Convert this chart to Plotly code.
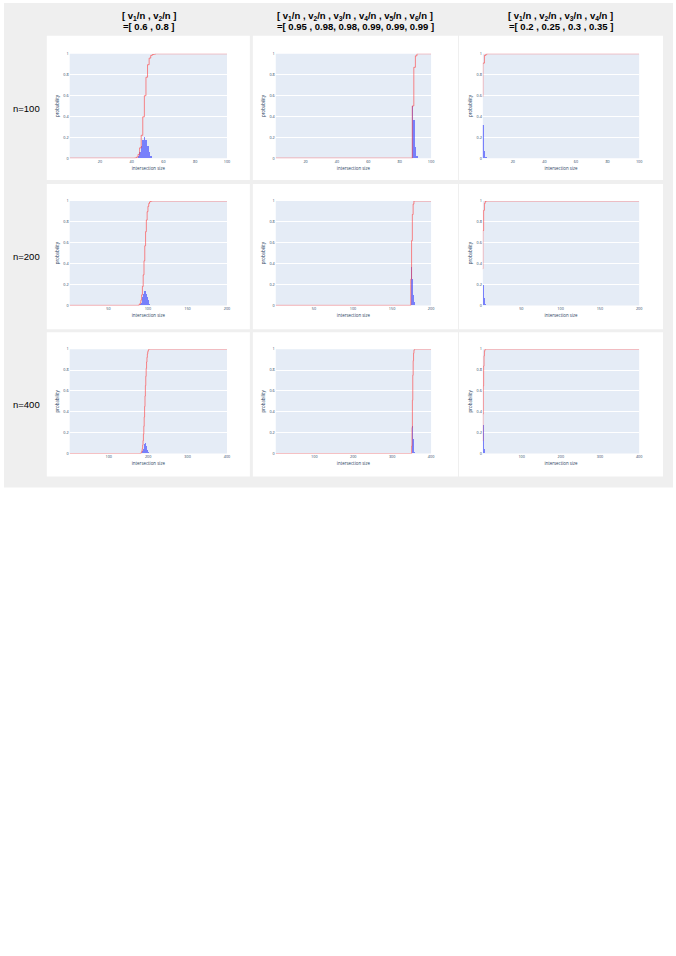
"""
Intersection-size distributions: bars = probability, red step = cumulative.
"""

import plotly.graph_objects as go

# the figure is kept a bit shorter than the 956px window so the page never scrolls
W, H = 676, 940

N_SIZES = [100, 200, 400]
X_DTICK = [20, 50, 100]

HEAD_TOP = [
    "[ v<sub>1</sub>/n , v<sub>2</sub>/n ]",
    "[ v<sub>1</sub>/n , v<sub>2</sub>/n , v<sub>3</sub>/n , v<sub>4</sub>/n , v<sub>5</sub>/n , v<sub>6</sub>/n ]",
    "[ v<sub>1</sub>/n , v<sub>2</sub>/n , v<sub>3</sub>/n , v<sub>4</sub>/n ]",
]
HEAD_BOTTOM = [
    "=[ 0.6 , 0.8 ]",
    "=[ 0.95 , 0.98, 0.98, 0.99, 0.99, 0.99 ]",
    "=[ 0.2 , 0.25 , 0.3 , 0.35 ]",
]
ROW_LABELS = ["n=100", "n=200", "n=400"]

# n=100
BAR_X_100_A = [42, 43, 44, 45, 46, 47, 48, 49, 50, 51, 52, 53, 54, 55]
BAR_P_100_A = [0.002, 0.008, 0.026, 0.063, 0.12, 0.177, 0.202, 0.177, 0.12, 0.063, 0.026, 0.009, 0.003, 0.001]
CDF_X_100_A = [1, 42, 43, 44, 45, 46, 47, 48, 49, 50, 51, 52, 53, 54, 55, 100]
CDF_Y_100_A = [0, 0.002, 0.01, 0.036, 0.099, 0.219, 0.396, 0.598, 0.775, 0.895, 0.958, 0.984, 0.993, 0.996, 1.0, 1.0]

BAR_X_100_B = [88, 89, 90, 91]
BAR_P_100_B = [0.5, 0.37, 0.11, 0.02]
CDF_X_100_B = [1, 88, 89, 90, 91, 100]
CDF_Y_100_B = [0, 0.5, 0.87, 0.98, 1.0, 1.0]

BAR_X_100_C = [0, 1, 2, 3, 4]
BAR_P_100_C = [0.59, 0.32, 0.075, 0.013, 0.002]
CDF_X_100_C = [0, 1, 2, 3, 4, 100]
CDF_Y_100_C = [0.59, 0.91, 0.985, 0.998, 1.0, 1.0]

# n=200
BAR_X_200_A = [88, 89, 90, 91, 92, 93, 94, 95, 96, 97, 98, 99, 100, 101, 102, 103, 104]
BAR_P_200_A = [0.002, 0.006, 0.014, 0.028, 0.051, 0.08, 0.111, 0.135, 0.144, 0.135, 0.111, 0.08, 0.051, 0.028, 0.014, 0.006, 0.002]
CDF_X_200_A = [1, 88, 89, 90, 91, 92, 93, 94, 95, 96, 97, 98, 99, 100, 101, 102, 103, 104, 105, 200]
CDF_Y_200_A = [0, 0.002, 0.008, 0.022, 0.05, 0.101, 0.181, 0.292, 0.427, 0.571, 0.706, 0.817, 0.897, 0.948, 0.976, 0.99, 0.996, 0.998, 1.0, 1.0]

BAR_X_200_B = [174, 175, 176, 177, 178]
BAR_P_200_B = [0.25, 0.37, 0.25, 0.1, 0.03]
CDF_X_200_B = [1, 174, 175, 176, 177, 178, 200]
CDF_Y_200_B = [0, 0.25, 0.62, 0.87, 0.97, 1.0, 1.0]

BAR_X_200_C = [0, 1, 2, 3, 4, 5, 6]
BAR_P_200_C = [0.35, 0.367, 0.193, 0.067, 0.018, 0.004, 0.001]
CDF_X_200_C = [0, 1, 2, 3, 4, 5, 6, 200]
CDF_Y_200_C = [0.35, 0.717, 0.91, 0.977, 0.995, 0.999, 1.0, 1.0]

# n=400
BAR_X_400_A = [180, 181, 182, 183, 184, 185, 186, 187, 188, 189, 190, 191, 192,
               193, 194, 195, 196, 197, 198, 199, 200, 201, 202, 203, 204]
BAR_P_400_A = [0.001, 0.002, 0.004, 0.007, 0.013, 0.021, 0.032, 0.045, 0.061, 0.076, 0.089, 0.099, 0.102,
               0.099, 0.089, 0.076, 0.061, 0.045, 0.032, 0.021, 0.013, 0.007, 0.004, 0.002, 0.001]
CDF_X_400_A = [1, 180, 181, 182, 183, 184, 185, 186, 187, 188, 189, 190, 191, 192,
               193, 194, 195, 196, 197, 198, 199, 200, 201, 202, 203, 400]
CDF_Y_400_A = [0, 0.001, 0.003, 0.007, 0.014, 0.027, 0.048, 0.08, 0.125, 0.186, 0.262, 0.351, 0.45, 0.552,
               0.651, 0.74, 0.816, 0.877, 0.922, 0.954, 0.975, 0.988, 0.995, 0.999, 1.0, 1.0]

BAR_X_400_B = [350, 351, 352, 353, 354, 355, 356, 357]
BAR_P_400_B = [0.07, 0.18, 0.26, 0.24, 0.14, 0.07, 0.03, 0.01]
CDF_X_400_B = [1, 350, 351, 352, 353, 354, 355, 356, 357, 400]
CDF_Y_400_B = [0, 0.07, 0.25, 0.51, 0.75, 0.89, 0.96, 0.99, 1.0, 1.0]

BAR_X_400_C = [0, 1, 2, 3, 4, 5, 6, 7, 8]
BAR_P_400_C = [0.122, 0.257, 0.27, 0.189, 0.099, 0.042, 0.015, 0.004, 0.002]
CDF_X_400_C = [0, 1, 2, 3, 4, 5, 6, 7, 8, 400]
CDF_Y_400_C = [0.122, 0.379, 0.649, 0.838, 0.937, 0.979, 0.994, 0.998, 1.0, 1.0]

PANELS = [
    [(BAR_X_100_A, BAR_P_100_A, CDF_X_100_A, CDF_Y_100_A),
     (BAR_X_100_B, BAR_P_100_B, CDF_X_100_B, CDF_Y_100_B),
     (BAR_X_100_C, BAR_P_100_C, CDF_X_100_C, CDF_Y_100_C)],
    [(BAR_X_200_A, BAR_P_200_A, CDF_X_200_A, CDF_Y_200_A),
     (BAR_X_200_B, BAR_P_200_B, CDF_X_200_B, CDF_Y_200_B),
     (BAR_X_200_C, BAR_P_200_C, CDF_X_200_C, CDF_Y_200_C)],
    [(BAR_X_400_A, BAR_P_400_A, CDF_X_400_A, CDF_Y_400_A),
     (BAR_X_400_B, BAR_P_400_B, CDF_X_400_B, CDF_Y_400_B),
     (BAR_X_400_C, BAR_P_400_C, CDF_X_400_C, CDF_Y_400_C)],
]

# pixel boxes (left/right, top/bottom)
CARD_X = [(47, 251), (254, 460), (461, 666)]
CARD_Y = [(33, 178), (182, 328), (331, 476)]
PLOT_X = [(70, 228), (277, 433), (485, 642)]
PLOT_Y = [(51, 156), (199, 304), (348, 453)]
HEAD_CX = [150, 357, 563]
ROW_CY = [106, 255, 404]

GREY = "#efefef"
PLOT_BG = "#E5ECF6"
TXT = "#2a3f5f"
TICK_SIZE = 3.8
TITLE_SIZE = 4.4
HEAD_FONT = dict(family="Liberation Sans, Arial", size=9.5, color="black")


def fx(p):
    return p / W


def fy(p):
    return 1 - p / H


def rect(x0, x1, y0, y1, color):
    return dict(type="rect", xref="paper", yref="paper", layer="below",
                x0=fx(x0), x1=fx(x1), y0=fy(y1), y1=fy(y0),
                fillcolor=color, line=dict(width=0))


fig = go.Figure()
shapes = [rect(4, W, 0, 487, GREY)]
annotations = []
layout_axes = {}

for r, n in enumerate(N_SIZES):
    for c in range(3):
        k = r * 3 + c + 1
        bx, bp, cx, cy = PANELS[r][c]
        xa, ya = f"x{k}", f"y{k}"

        fig.add_trace(go.Bar(
            x=bx, y=bp, width=1, xaxis=xa, yaxis=ya,
            marker=dict(color="rgba(30,40,255,0.55)", line=dict(width=0)),
            showlegend=False,
        ))
        fig.add_trace(go.Scatter(
            x=cx, y=cy, mode="lines", line_shape="hv", xaxis=xa, yaxis=ya,
            line=dict(color="rgba(255,60,60,0.6)", width=1),
            showlegend=False,
        ))

        shapes.append(rect(*CARD_X[c], *CARD_Y[r], "white"))
        shapes.append(rect(*PLOT_X[c], *PLOT_Y[r], PLOT_BG))

        layout_axes[f"xaxis{k}"] = dict(
            domain=[fx(PLOT_X[c][0]), fx(PLOT_X[c][1])], anchor=ya,
            range=[1, n], dtick=X_DTICK[r], showgrid=False, zeroline=False,
            ticks="", tickfont=dict(size=TICK_SIZE, color=TXT),
            title=dict(text="intersection size", standoff=3,
                       font=dict(size=TITLE_SIZE, color=TXT)),
        )
        layout_axes[f"yaxis{k}"] = dict(
            domain=[fy(PLOT_Y[r][1]), fy(PLOT_Y[r][0])], anchor=xa,
            range=[0, 1], dtick=0.2, gridcolor="white", gridwidth=1,
            zeroline=False, ticks="", tickfont=dict(size=TICK_SIZE, color=TXT),
            title=dict(text="probability", standoff=3,
                       font=dict(size=TITLE_SIZE, color=TXT)),
        )

for c in range(3):
    for txt, y in ((HEAD_TOP[c], 13), (HEAD_BOTTOM[c], 24)):
        annotations.append(dict(
            text=f"<b>{txt}</b>", x=fx(HEAD_CX[c]), y=fy(y),
            xref="paper", yref="paper", showarrow=False,
            xanchor="center", yanchor="middle", font=HEAD_FONT,
        ))

for r in range(3):
    annotations.append(dict(
        text=ROW_LABELS[r], x=fx(27), y=fy(ROW_CY[r]),
        xref="paper", yref="paper", showarrow=False,
        xanchor="center", yanchor="middle", font=HEAD_FONT,
    ))

fig.update_layout(
    width=W, height=H, autosize=False,
    margin=dict(l=0, r=0, t=0, b=0, pad=0),
    paper_bgcolor="white", plot_bgcolor="rgba(0,0,0,0)",
    font=dict(family="Open Sans, verdana, arial, sans-serif", color=TXT),
    bargap=0, barmode="overlay",
    shapes=shapes, annotations=annotations,
    **layout_axes,
)

# page body has a default 8px margin; drop it and keep the page from scrolling
PAGE_FIX = ("document.body.style.margin = '0';"
            "document.body.style.overflow = 'hidden';"
            "document.documentElement.style.overflow = 'hidden';")
fig.write_html("out.html", config={"displayModeBar": False}, post_script=PAGE_FIX)
